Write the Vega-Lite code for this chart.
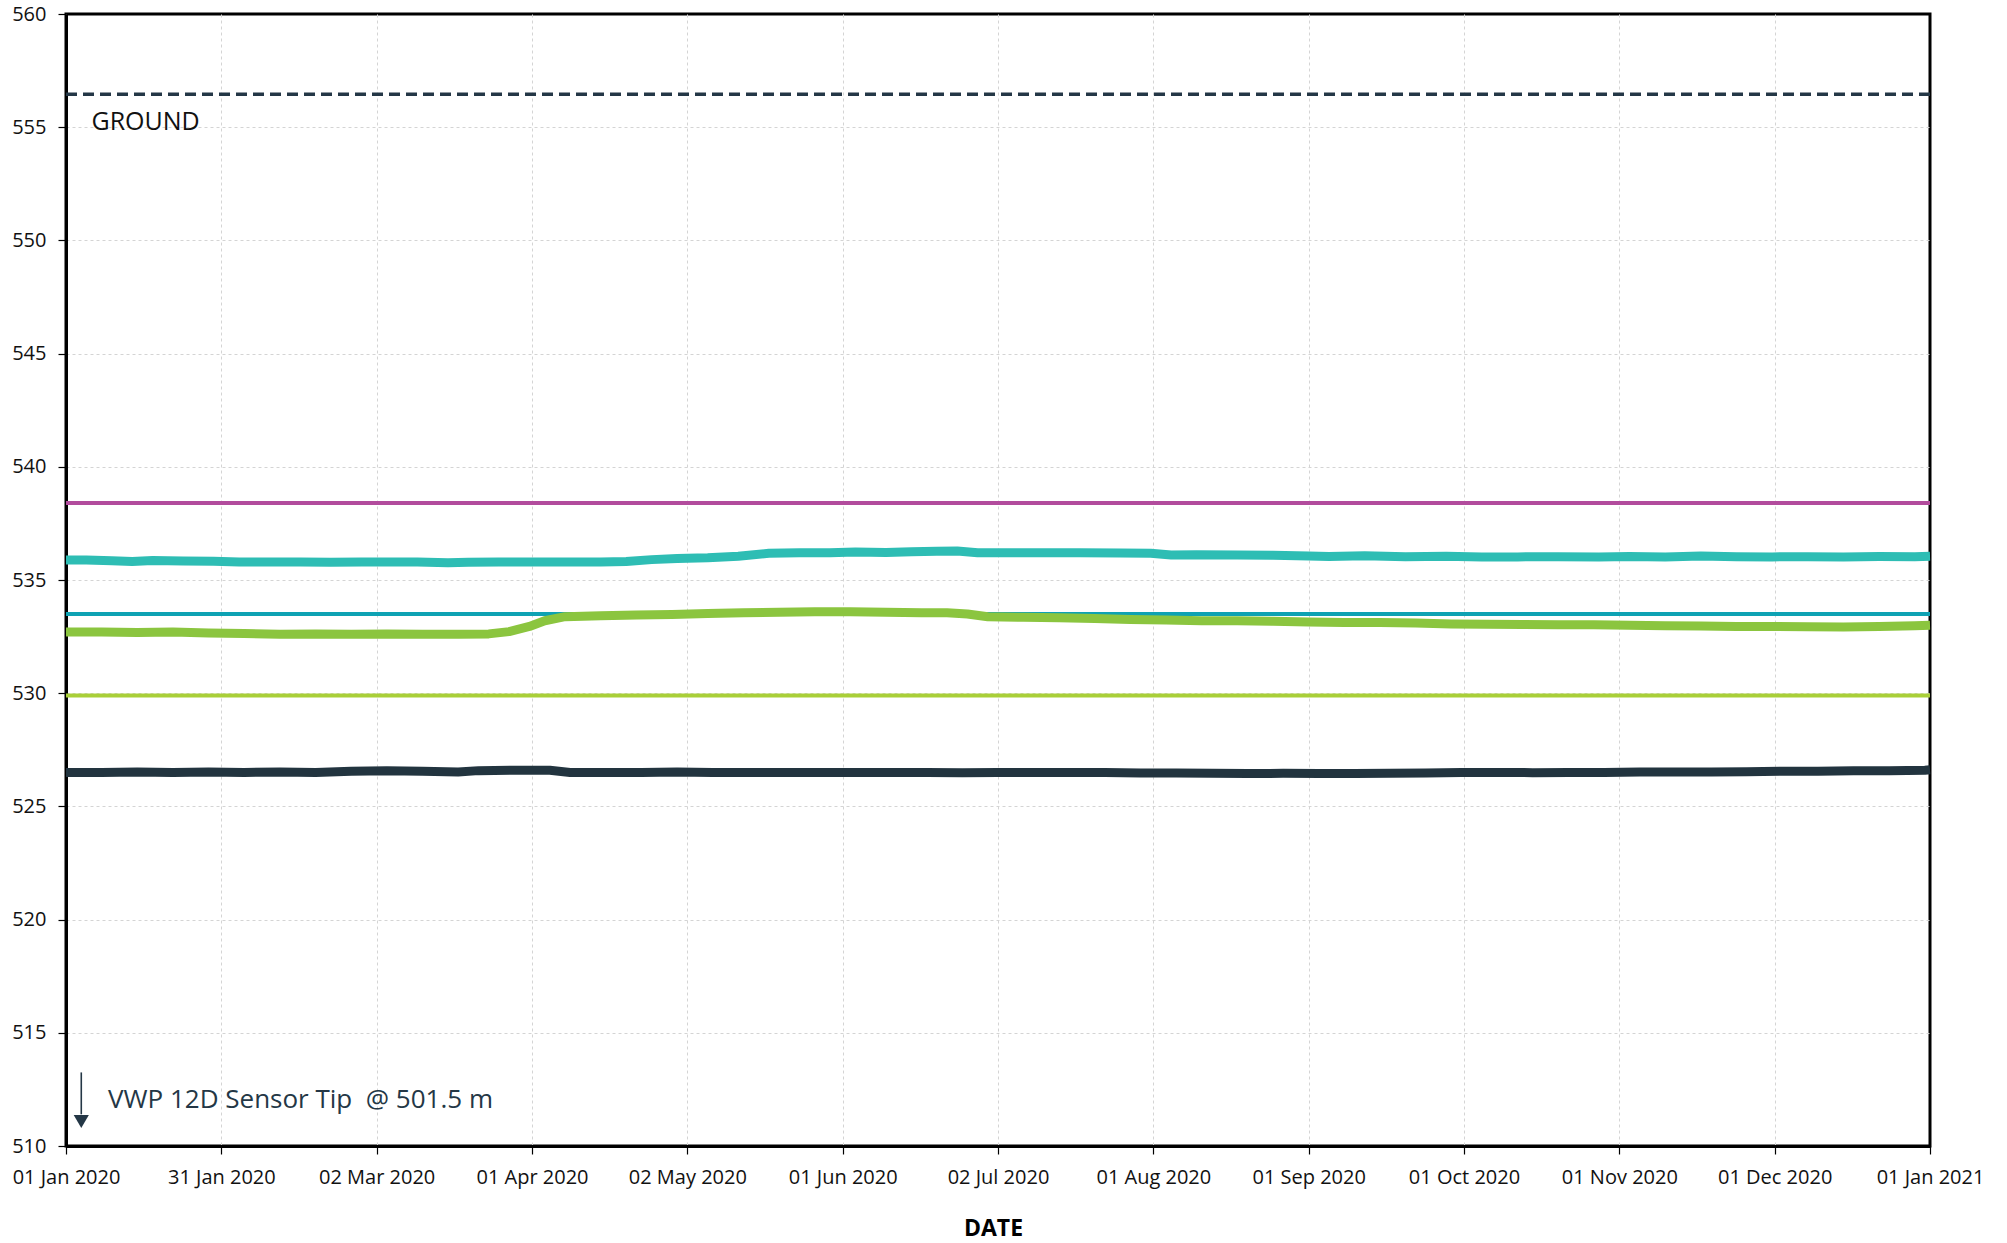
{
  "$schema": "https://vega.github.io/schema/vega-lite/v6.json",
  "width": 1864,
  "height": 1132,
  "autosize": {"type": "none"},
  "padding": {"left": 66, "top": 14, "right": 77, "bottom": 97},
  "background": "#ffffff",
  "config": {
    "font": "Open Sans",
    "view": {"stroke": "#000000", "strokeWidth": 3},
    "axis": {
      "labelFont": "Open Sans",
      "labelFontSize": 20,
      "labelColor": "#111111",
      "domainColor": "#000000",
      "domainWidth": 3,
      "tickColor": "#000000",
      "tickWidth": 1.2,
      "tickSize": 8,
      "gridColor": "#d4d4d4",
      "gridDash": [3, 3],
      "gridWidth": 1,
      "titleFont": "Open Sans",
      "titleFontSize": 23,
      "titleFontWeight": "bold",
      "titleColor": "#000000"
    }
  },
  "resolve": {"scale": {"color": "independent"}},
  "datasets": {
    "series": [
      {"date": "2020-01-01T00:00:00", "value": 535.88, "series": "T"},
      {"date": "2020-01-05T00:00:00", "value": 535.88, "series": "T"},
      {"date": "2020-01-10T00:00:00", "value": 535.85, "series": "T"},
      {"date": "2020-01-14T00:00:00", "value": 535.82, "series": "T"},
      {"date": "2020-01-18T00:00:00", "value": 535.86, "series": "T"},
      {"date": "2020-01-24T00:00:00", "value": 535.84, "series": "T"},
      {"date": "2020-01-30T00:00:00", "value": 535.83, "series": "T"},
      {"date": "2020-02-04T00:00:00", "value": 535.8, "series": "T"},
      {"date": "2020-02-10T00:00:00", "value": 535.79, "series": "T"},
      {"date": "2020-02-16T00:00:00", "value": 535.8, "series": "T"},
      {"date": "2020-02-22T00:00:00", "value": 535.78, "series": "T"},
      {"date": "2020-02-28T00:00:00", "value": 535.8, "series": "T"},
      {"date": "2020-03-05T00:00:00", "value": 535.79, "series": "T"},
      {"date": "2020-03-10T00:00:00", "value": 535.8, "series": "T"},
      {"date": "2020-03-16T00:00:00", "value": 535.76, "series": "T"},
      {"date": "2020-03-20T00:00:00", "value": 535.78, "series": "T"},
      {"date": "2020-03-26T00:00:00", "value": 535.79, "series": "T"},
      {"date": "2020-04-01T00:00:00", "value": 535.8, "series": "T"},
      {"date": "2020-04-08T00:00:00", "value": 535.8, "series": "T"},
      {"date": "2020-04-15T00:00:00", "value": 535.8, "series": "T"},
      {"date": "2020-04-20T00:00:00", "value": 535.82, "series": "T"},
      {"date": "2020-04-25T00:00:00", "value": 535.9, "series": "T"},
      {"date": "2020-04-30T00:00:00", "value": 535.95, "series": "T"},
      {"date": "2020-05-06T00:00:00", "value": 535.98, "series": "T"},
      {"date": "2020-05-12T00:00:00", "value": 536.05, "series": "T"},
      {"date": "2020-05-18T00:00:00", "value": 536.18, "series": "T"},
      {"date": "2020-05-24T00:00:00", "value": 536.2, "series": "T"},
      {"date": "2020-05-30T00:00:00", "value": 536.2, "series": "T"},
      {"date": "2020-06-04T00:00:00", "value": 536.24, "series": "T"},
      {"date": "2020-06-10T00:00:00", "value": 536.22, "series": "T"},
      {"date": "2020-06-15T00:00:00", "value": 536.25, "series": "T"},
      {"date": "2020-06-20T00:00:00", "value": 536.27, "series": "T"},
      {"date": "2020-06-24T00:00:00", "value": 536.28, "series": "T"},
      {"date": "2020-06-28T00:00:00", "value": 536.2, "series": "T"},
      {"date": "2020-07-02T00:00:00", "value": 536.2, "series": "T"},
      {"date": "2020-07-10T00:00:00", "value": 536.2, "series": "T"},
      {"date": "2020-07-18T00:00:00", "value": 536.2, "series": "T"},
      {"date": "2020-07-26T00:00:00", "value": 536.19, "series": "T"},
      {"date": "2020-08-01T00:00:00", "value": 536.18, "series": "T"},
      {"date": "2020-08-05T00:00:00", "value": 536.1, "series": "T"},
      {"date": "2020-08-10T00:00:00", "value": 536.12, "series": "T"},
      {"date": "2020-08-18T00:00:00", "value": 536.1, "series": "T"},
      {"date": "2020-08-25T00:00:00", "value": 536.09, "series": "T"},
      {"date": "2020-09-01T00:00:00", "value": 536.06, "series": "T"},
      {"date": "2020-09-05T00:00:00", "value": 536.04, "series": "T"},
      {"date": "2020-09-12T00:00:00", "value": 536.07, "series": "T"},
      {"date": "2020-09-20T00:00:00", "value": 536.03, "series": "T"},
      {"date": "2020-09-28T00:00:00", "value": 536.05, "series": "T"},
      {"date": "2020-10-05T00:00:00", "value": 536.02, "series": "T"},
      {"date": "2020-10-12T00:00:00", "value": 536.02, "series": "T"},
      {"date": "2020-10-20T00:00:00", "value": 536.03, "series": "T"},
      {"date": "2020-10-28T00:00:00", "value": 536.02, "series": "T"},
      {"date": "2020-11-03T00:00:00", "value": 536.04, "series": "T"},
      {"date": "2020-11-10T00:00:00", "value": 536.02, "series": "T"},
      {"date": "2020-11-17T00:00:00", "value": 536.06, "series": "T"},
      {"date": "2020-11-24T00:00:00", "value": 536.03, "series": "T"},
      {"date": "2020-12-01T00:00:00", "value": 536.02, "series": "T"},
      {"date": "2020-12-08T00:00:00", "value": 536.03, "series": "T"},
      {"date": "2020-12-15T00:00:00", "value": 536.02, "series": "T"},
      {"date": "2020-12-22T00:00:00", "value": 536.04, "series": "T"},
      {"date": "2020-12-29T00:00:00", "value": 536.03, "series": "T"},
      {"date": "2021-01-01T00:00:00", "value": 536.05, "series": "T"},

      {"date": "2020-01-01T00:00:00", "value": 532.7, "series": "G"},
      {"date": "2020-01-08T00:00:00", "value": 532.7, "series": "G"},
      {"date": "2020-01-15T00:00:00", "value": 532.68, "series": "G"},
      {"date": "2020-01-22T00:00:00", "value": 532.7, "series": "G"},
      {"date": "2020-01-29T00:00:00", "value": 532.66, "series": "G"},
      {"date": "2020-02-05T00:00:00", "value": 532.64, "series": "G"},
      {"date": "2020-02-12T00:00:00", "value": 532.6, "series": "G"},
      {"date": "2020-02-19T00:00:00", "value": 532.62, "series": "G"},
      {"date": "2020-02-26T00:00:00", "value": 532.6, "series": "G"},
      {"date": "2020-03-04T00:00:00", "value": 532.62, "series": "G"},
      {"date": "2020-03-11T00:00:00", "value": 532.6, "series": "G"},
      {"date": "2020-03-18T00:00:00", "value": 532.6, "series": "G"},
      {"date": "2020-03-24T00:00:00", "value": 532.62, "series": "G"},
      {"date": "2020-03-28T00:00:00", "value": 532.72, "series": "G"},
      {"date": "2020-04-01T00:00:00", "value": 532.95, "series": "G"},
      {"date": "2020-04-04T00:00:00", "value": 533.2, "series": "G"},
      {"date": "2020-04-08T00:00:00", "value": 533.38, "series": "G"},
      {"date": "2020-04-15T00:00:00", "value": 533.42, "series": "G"},
      {"date": "2020-04-22T00:00:00", "value": 533.45, "series": "G"},
      {"date": "2020-04-29T00:00:00", "value": 533.48, "series": "G"},
      {"date": "2020-05-06T00:00:00", "value": 533.52, "series": "G"},
      {"date": "2020-05-13T00:00:00", "value": 533.55, "series": "G"},
      {"date": "2020-05-20T00:00:00", "value": 533.58, "series": "G"},
      {"date": "2020-05-27T00:00:00", "value": 533.6, "series": "G"},
      {"date": "2020-06-03T00:00:00", "value": 533.6, "series": "G"},
      {"date": "2020-06-10T00:00:00", "value": 533.58, "series": "G"},
      {"date": "2020-06-17T00:00:00", "value": 533.55, "series": "G"},
      {"date": "2020-06-22T00:00:00", "value": 533.55, "series": "G"},
      {"date": "2020-06-26T00:00:00", "value": 533.5, "series": "G"},
      {"date": "2020-06-30T00:00:00", "value": 533.38, "series": "G"},
      {"date": "2020-07-07T00:00:00", "value": 533.35, "series": "G"},
      {"date": "2020-07-14T00:00:00", "value": 533.33, "series": "G"},
      {"date": "2020-07-21T00:00:00", "value": 533.3, "series": "G"},
      {"date": "2020-07-28T00:00:00", "value": 533.25, "series": "G"},
      {"date": "2020-08-04T00:00:00", "value": 533.23, "series": "G"},
      {"date": "2020-08-11T00:00:00", "value": 533.2, "series": "G"},
      {"date": "2020-08-18T00:00:00", "value": 533.2, "series": "G"},
      {"date": "2020-08-25T00:00:00", "value": 533.18, "series": "G"},
      {"date": "2020-09-01T00:00:00", "value": 533.14, "series": "G"},
      {"date": "2020-09-08T00:00:00", "value": 533.12, "series": "G"},
      {"date": "2020-09-15T00:00:00", "value": 533.12, "series": "G"},
      {"date": "2020-09-22T00:00:00", "value": 533.1, "series": "G"},
      {"date": "2020-09-29T00:00:00", "value": 533.06, "series": "G"},
      {"date": "2020-10-06T00:00:00", "value": 533.05, "series": "G"},
      {"date": "2020-10-13T00:00:00", "value": 533.03, "series": "G"},
      {"date": "2020-10-20T00:00:00", "value": 533.02, "series": "G"},
      {"date": "2020-10-27T00:00:00", "value": 533.02, "series": "G"},
      {"date": "2020-11-03T00:00:00", "value": 533.0, "series": "G"},
      {"date": "2020-11-10T00:00:00", "value": 532.98, "series": "G"},
      {"date": "2020-11-17T00:00:00", "value": 532.97, "series": "G"},
      {"date": "2020-11-24T00:00:00", "value": 532.95, "series": "G"},
      {"date": "2020-12-01T00:00:00", "value": 532.95, "series": "G"},
      {"date": "2020-12-08T00:00:00", "value": 532.93, "series": "G"},
      {"date": "2020-12-15T00:00:00", "value": 532.92, "series": "G"},
      {"date": "2020-12-22T00:00:00", "value": 532.95, "series": "G"},
      {"date": "2020-12-29T00:00:00", "value": 532.98, "series": "G"},
      {"date": "2021-01-01T00:00:00", "value": 533.0, "series": "G"},

      {"date": "2020-01-01T00:00:00", "value": 526.5, "series": "N"},
      {"date": "2020-01-08T00:00:00", "value": 526.5, "series": "N"},
      {"date": "2020-01-15T00:00:00", "value": 526.52, "series": "N"},
      {"date": "2020-01-22T00:00:00", "value": 526.5, "series": "N"},
      {"date": "2020-01-29T00:00:00", "value": 526.52, "series": "N"},
      {"date": "2020-02-05T00:00:00", "value": 526.5, "series": "N"},
      {"date": "2020-02-12T00:00:00", "value": 526.52, "series": "N"},
      {"date": "2020-02-19T00:00:00", "value": 526.5, "series": "N"},
      {"date": "2020-02-26T00:00:00", "value": 526.55, "series": "N"},
      {"date": "2020-03-04T00:00:00", "value": 526.57, "series": "N"},
      {"date": "2020-03-11T00:00:00", "value": 526.55, "series": "N"},
      {"date": "2020-03-18T00:00:00", "value": 526.52, "series": "N"},
      {"date": "2020-03-22T00:00:00", "value": 526.58, "series": "N"},
      {"date": "2020-03-29T00:00:00", "value": 526.6, "series": "N"},
      {"date": "2020-04-05T00:00:00", "value": 526.6, "series": "N"},
      {"date": "2020-04-09T00:00:00", "value": 526.5, "series": "N"},
      {"date": "2020-04-16T00:00:00", "value": 526.5, "series": "N"},
      {"date": "2020-04-23T00:00:00", "value": 526.5, "series": "N"},
      {"date": "2020-04-30T00:00:00", "value": 526.52, "series": "N"},
      {"date": "2020-05-07T00:00:00", "value": 526.5, "series": "N"},
      {"date": "2020-05-14T00:00:00", "value": 526.5, "series": "N"},
      {"date": "2020-05-21T00:00:00", "value": 526.5, "series": "N"},
      {"date": "2020-05-28T00:00:00", "value": 526.5, "series": "N"},
      {"date": "2020-06-04T00:00:00", "value": 526.5, "series": "N"},
      {"date": "2020-06-11T00:00:00", "value": 526.5, "series": "N"},
      {"date": "2020-06-18T00:00:00", "value": 526.5, "series": "N"},
      {"date": "2020-06-25T00:00:00", "value": 526.49, "series": "N"},
      {"date": "2020-07-02T00:00:00", "value": 526.5, "series": "N"},
      {"date": "2020-07-09T00:00:00", "value": 526.5, "series": "N"},
      {"date": "2020-07-16T00:00:00", "value": 526.5, "series": "N"},
      {"date": "2020-07-23T00:00:00", "value": 526.5, "series": "N"},
      {"date": "2020-07-30T00:00:00", "value": 526.48, "series": "N"},
      {"date": "2020-08-06T00:00:00", "value": 526.47, "series": "N"},
      {"date": "2020-08-13T00:00:00", "value": 526.46, "series": "N"},
      {"date": "2020-08-20T00:00:00", "value": 526.45, "series": "N"},
      {"date": "2020-08-27T00:00:00", "value": 526.46, "series": "N"},
      {"date": "2020-09-03T00:00:00", "value": 526.45, "series": "N"},
      {"date": "2020-09-10T00:00:00", "value": 526.45, "series": "N"},
      {"date": "2020-09-17T00:00:00", "value": 526.46, "series": "N"},
      {"date": "2020-09-24T00:00:00", "value": 526.48, "series": "N"},
      {"date": "2020-10-01T00:00:00", "value": 526.5, "series": "N"},
      {"date": "2020-10-08T00:00:00", "value": 526.5, "series": "N"},
      {"date": "2020-10-15T00:00:00", "value": 526.49, "series": "N"},
      {"date": "2020-10-22T00:00:00", "value": 526.5, "series": "N"},
      {"date": "2020-10-29T00:00:00", "value": 526.5, "series": "N"},
      {"date": "2020-11-05T00:00:00", "value": 526.52, "series": "N"},
      {"date": "2020-11-12T00:00:00", "value": 526.52, "series": "N"},
      {"date": "2020-11-19T00:00:00", "value": 526.52, "series": "N"},
      {"date": "2020-11-26T00:00:00", "value": 526.53, "series": "N"},
      {"date": "2020-12-03T00:00:00", "value": 526.55, "series": "N"},
      {"date": "2020-12-10T00:00:00", "value": 526.55, "series": "N"},
      {"date": "2020-12-17T00:00:00", "value": 526.57, "series": "N"},
      {"date": "2020-12-24T00:00:00", "value": 526.58, "series": "N"},
      {"date": "2020-12-31T00:00:00", "value": 526.6, "series": "N"},
      {"date": "2021-01-01T00:00:00", "value": 526.62, "series": "N"}
    ],
    "refs": [
      {"name": "M", "value": 538.4},
      {"name": "B", "value": 533.5},
      {"name": "Y", "value": 529.9}
    ]
  },
  "layer": [
    {
      "data": {"values": [{"value": 556.45}]},
      "mark": {"type": "rule", "color": "#243746", "strokeWidth": 3.5, "strokeDash": [11, 6]},
      "encoding": {
        "y": {"field": "value", "type": "quantitative", "title": null, "scale": {"domain": [510, 560], "nice": false, "zero": false}}
      }
    },
    {
      "data": {"name": "refs"},
      "mark": {"type": "rule", "strokeWidth": 4},
      "encoding": {
        "y": {"field": "value", "type": "quantitative", "title": null, "scale": {"domain": [510, 560], "nice": false, "zero": false}},
        "color": {"field": "name", "type": "nominal", "scale": {"domain": ["M", "B", "Y"], "range": ["#b24c9d", "#0ea2b3", "#a9cf38"]}, "legend": null}
      }
    },
    {
      "data": {"name": "series"},
      "mark": {"type": "line", "strokeWidth": 9, "strokeCap": "butt", "strokeJoin": "round"},
      "encoding": {
        "x": {
          "field": "date", "type": "temporal", "title": "DATE",
          "scale": {"domain": [{"year": 2020, "month": 1, "date": 1}, {"year": 2021, "month": 1, "date": 1}], "nice": false},
          "axis": {
            "titlePadding": 30,
            "titleX": 927,
            "labelPadding": 13,
            "format": "%d %b %Y",
            "grid": true,
            "gridOpacity": {"condition": {"test": "datum.value > time(datetime(2020, 11, 31, 0))", "value": 0}, "value": 1},
            "values": [
              {"year": 2020, "month": 1, "date": 1},
              {"year": 2020, "month": 1, "date": 31, "hours": 12},
              {"year": 2020, "month": 3, "date": 2},
              {"year": 2020, "month": 4, "date": 1, "hours": 12},
              {"year": 2020, "month": 5, "date": 2},
              {"year": 2020, "month": 6, "date": 1, "hours": 12},
              {"year": 2020, "month": 7, "date": 2},
              {"year": 2020, "month": 8, "date": 1, "hours": 12},
              {"year": 2020, "month": 9, "date": 1},
              {"year": 2020, "month": 10, "date": 1, "hours": 12},
              {"year": 2020, "month": 11, "date": 1},
              {"year": 2020, "month": 12, "date": 1, "hours": 12},
              {"year": 2021, "month": 1, "date": 1}
            ],
            "labelOverlap": false,
            "labelFlush": false
          }
        },
        "y": {
          "field": "value", "type": "quantitative", "title": null,
          "scale": {"domain": [510, 560], "nice": false, "zero": false},
          "axis": {
            "values": [510, 515, 520, 525, 530, 535, 540, 545, 550, 555, 560],
            "labelPadding": 12, "grid": true, "labelOverlap": false,
            "gridOpacity": {"condition": {"test": "datum.value >= 559", "value": 0}, "value": 1}
          }
        },
        "color": {"field": "series", "type": "nominal", "scale": {"domain": ["T", "G", "N"], "range": ["#2ebdb4", "#8bc53f", "#22343f"]}, "legend": null}
      }
    },
    {
      "data": {"values": [{"date": "2020-01-06T00:00:00", "value": 555.25, "label": "GROUND"}]},
      "mark": {"type": "text", "align": "left", "baseline": "middle", "fontSize": 25, "color": "#111111", "font": "Open Sans"},
      "encoding": {
        "x": {"field": "date", "type": "temporal", "title": "DATE", "scale": {"domain": [{"year": 2020, "month": 1, "date": 1}, {"year": 2021, "month": 1, "date": 1}], "nice": false}},
        "y": {"field": "value", "type": "quantitative", "title": null, "scale": {"domain": [510, 560], "nice": false, "zero": false}},
        "text": {"field": "label"}
      }
    },
    {
      "data": {"values": [{"date": "2020-01-09T06:00:00", "value": 512.05, "label": "VWP 12D Sensor Tip\u00a0 @ 501.5 m"}]},
      "mark": {"type": "text", "align": "left", "baseline": "middle", "fontSize": 26, "color": "#243746", "font": "Open Sans"},
      "encoding": {
        "x": {"field": "date", "type": "temporal", "title": "DATE", "scale": {"domain": [{"year": 2020, "month": 1, "date": 1}, {"year": 2021, "month": 1, "date": 1}], "nice": false}},
        "y": {"field": "value", "type": "quantitative", "title": null, "scale": {"domain": [510, 560], "nice": false, "zero": false}},
        "text": {"field": "label"}
      }
    },
    {
      "data": {"values": [{"date": "2020-01-04T00:00:00", "value": 513.25, "end": 511.4}]},
      "mark": {"type": "rule", "color": "#243746", "strokeWidth": 1.6},
      "encoding": {
        "x": {"field": "date", "type": "temporal", "title": "DATE", "scale": {"domain": [{"year": 2020, "month": 1, "date": 1}, {"year": 2021, "month": 1, "date": 1}], "nice": false}},
        "y": {"field": "value", "type": "quantitative", "title": null, "scale": {"domain": [510, 560], "nice": false, "zero": false}},
        "y2": {"field": "end"}
      }
    },
    {
      "data": {"values": [{"date": "2020-01-04T00:00:00", "value": 511.08}]},
      "mark": {"type": "point", "shape": "triangle-down", "filled": true, "color": "#243746", "size": 230, "opacity": 1},
      "encoding": {
        "x": {"field": "date", "type": "temporal", "title": "DATE", "scale": {"domain": [{"year": 2020, "month": 1, "date": 1}, {"year": 2021, "month": 1, "date": 1}], "nice": false}},
        "y": {"field": "value", "type": "quantitative", "title": null, "scale": {"domain": [510, 560], "nice": false, "zero": false}}
      }
    }
  ]
}
